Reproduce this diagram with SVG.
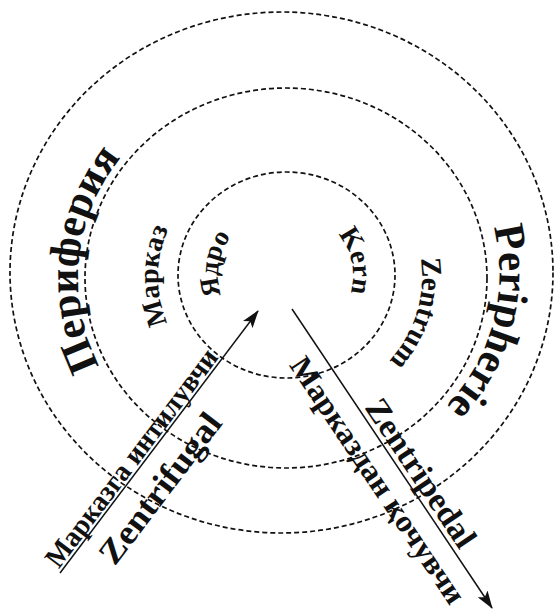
<svg xmlns="http://www.w3.org/2000/svg" width="558" height="611" viewBox="0 0 558 611">
<defs>
<style>
.ring{fill:none;stroke:#111;stroke-width:1.7;stroke-dasharray:5 3}
.lbl{font-family:"Liberation Serif","Times New Roman",serif;font-weight:bold;fill:#111}
.arrow{stroke:#111;stroke-width:1.5;fill:none}
</style>
<marker id="ah" viewBox="0 0 18 12" refX="17" refY="6" markerWidth="18" markerHeight="12" markerUnits="userSpaceOnUse" orient="auto"><path d="M0,0 L18,6 L0,12 L4,6 z" fill="#111"/></marker>
<path id="p-per-l" d="M115.6,391.6 A208,198 0 0 1 141.5,135.6"/>
<path id="p-per-r" d="M470,172 A208,198 0 0 1 399,443"/>
<path id="p-mid-l" d="M188,355.4 A128,122 0 0 1 189.4,197"/>
<path id="p-mid-r" d="M409.3,222.9 A136,128 0 0 1 360.1,384.4"/>
<path id="p-in-l" d="M227.1,308 A68,66 0 0 1 240.5,226"/>
<path id="p-in-r" d="M329,226 A67,64 0 0 1 346,304"/>
</defs>
<rect width="558" height="611" fill="#fff"/>
<g id="periphery">
<ellipse class="ring" cx="281.5" cy="272.5" rx="271.5" ry="260.5"/>
<text class="lbl" font-size="43"><textPath href="#p-per-l" startOffset="50%" text-anchor="middle">Периферия</textPath></text>
<text class="lbl" font-size="43"><textPath href="#p-per-r" startOffset="50%" text-anchor="middle">Peripherie</textPath></text>
</g>
<g id="center">
<ellipse class="ring" cx="286" cy="278" rx="201" ry="190"/>
<text class="lbl" font-size="28"><textPath href="#p-mid-l" startOffset="50%" text-anchor="middle">Марказ</textPath></text>
<text class="lbl" font-size="29"><textPath href="#p-mid-r" startOffset="50%" text-anchor="middle">Zentrum</textPath></text>
</g>
<g id="core">
<ellipse class="ring" cx="286.5" cy="275" rx="108.5" ry="103"/>
<text class="lbl" font-size="27"><textPath href="#p-in-l" startOffset="50%" text-anchor="middle">Ядро</textPath></text>
<text class="lbl" font-size="28"><textPath href="#p-in-r" startOffset="50%" text-anchor="middle">Kern</textPath></text>
</g>
<g id="connectors">
<path class="arrow" d="M60,573 L258,311" marker-end="url(#ah)"/>
<path class="arrow" d="M292,309 L492,608" marker-end="url(#ah)"/>
<g transform="translate(60,573) rotate(-52.9)">
<text class="lbl" font-size="29" x="2" y="-3" textLength="266" lengthAdjust="spacingAndGlyphs">Марказга интилувчи</text>
<text class="lbl" font-size="34" x="38" y="40" textLength="180" lengthAdjust="spacingAndGlyphs">Zentrifugal</text>
</g>
<g transform="translate(292,309) rotate(56.2)">
<text class="lbl" font-size="33" x="122" y="-5" textLength="172" lengthAdjust="spacingAndGlyphs">Zentripedal</text>
<text class="lbl" font-size="31" x="45" y="34" textLength="290" lengthAdjust="spacingAndGlyphs">Марказдан қочувчи</text>
</g>
</g>
</svg>
